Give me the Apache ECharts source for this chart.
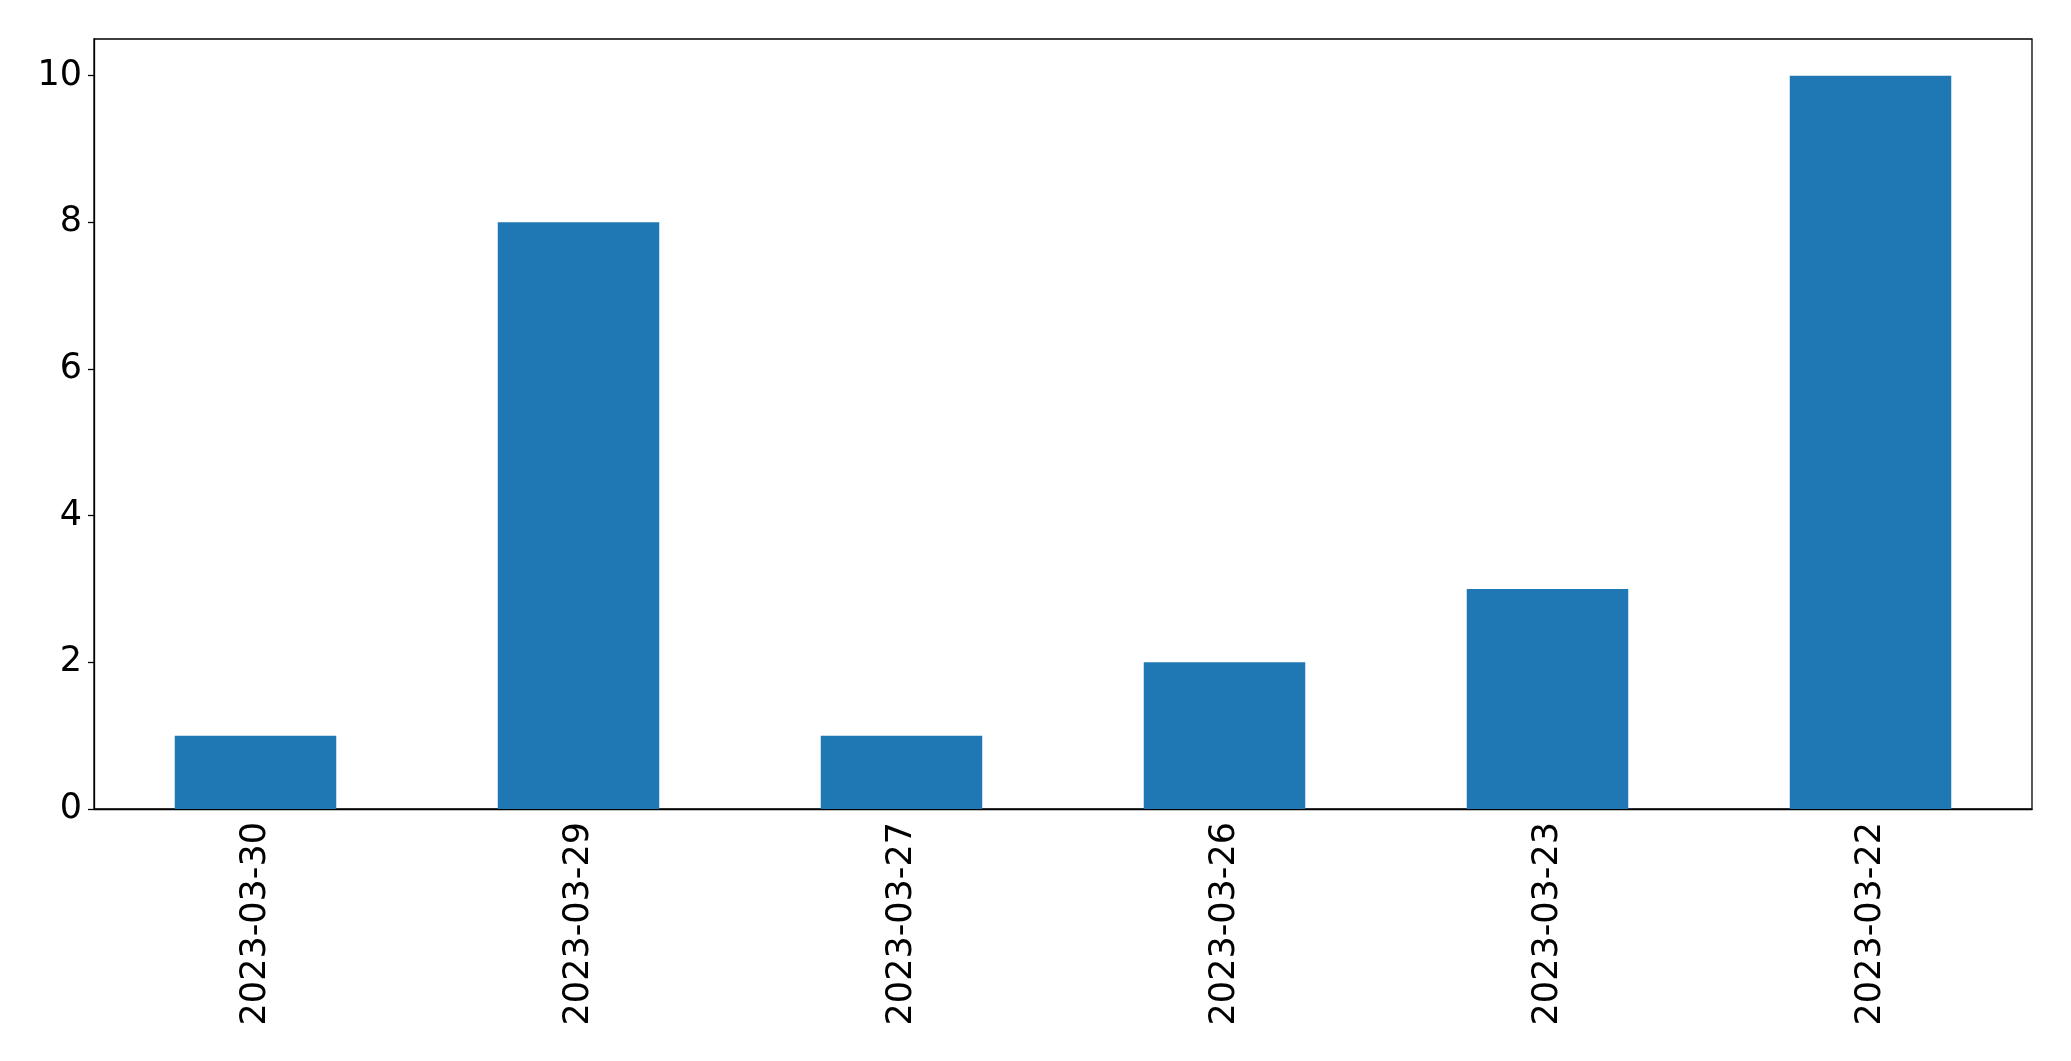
<!DOCTYPE html>
<html>
<head>
<meta charset="utf-8">
<script src="https://cdn.jsdelivr.net/npm/echarts@6/dist/echarts.min.js"></script>
<style>
  html, body { margin: 0; padding: 0; background: #fff; }
  #chart { width: 2071px; height: 1061px; }
</style>
</head>
<body>
<div id="chart"></div>
<script>
const dates = ['2023-03-30', '2023-03-29', '2023-03-27', '2023-03-26', '2023-03-23', '2023-03-22']
const counts = [1, 8, 1, 2, 3, 10]
const yTicks = [0, 2, 4, 6, 8, 10]

const chart = echarts.init(document.getElementById('chart'))

const option = {
  animation: false,
  textStyle: { fontFamily: 'DejaVu Sans', color: '#000' },
  grid: {
    left: 94,
    right: 39,
    top: 39,
    bottom: 252,
    show: true,
    borderColor: '#000',
    borderWidth: 1.3,
    containLabel: false
  },
  xAxis: {
    type: 'category',
    data: dates,
    axisLine: { lineStyle: { color: '#000', width: 1.3 } },
    axisTick: { alignWithLabel: true, length: 6, lineStyle: { color: '#000', width: 1.3 } },
    axisLabel: {
      rotate: 90,
      margin: 13,
      fontSize: 35,
      color: '#000',
      fontFamily: 'DejaVu Sans'
    }
  },
  yAxis: {
    type: 'value',
    min: 0,
    max: 10.5,
    interval: 2,
    splitLine: { show: false },
    axisLine: { show: true, lineStyle: { color: '#000', width: 1.3 } },
    axisTick: { show: true, length: 6, customValues: yTicks, lineStyle: { color: '#000', width: 1.3 } },
    axisLabel: {
      customValues: yTicks,
      margin: 12,
      fontSize: 35,
      color: '#000',
      fontFamily: 'DejaVu Sans'
    }
  },
  series: [
    {
      type: 'bar',
      data: counts,
      barWidth: '50%',
      itemStyle: { color: '#1f77b4' }
    }
  ]
}

chart.setOption(option)
</script>
</body>
</html>
